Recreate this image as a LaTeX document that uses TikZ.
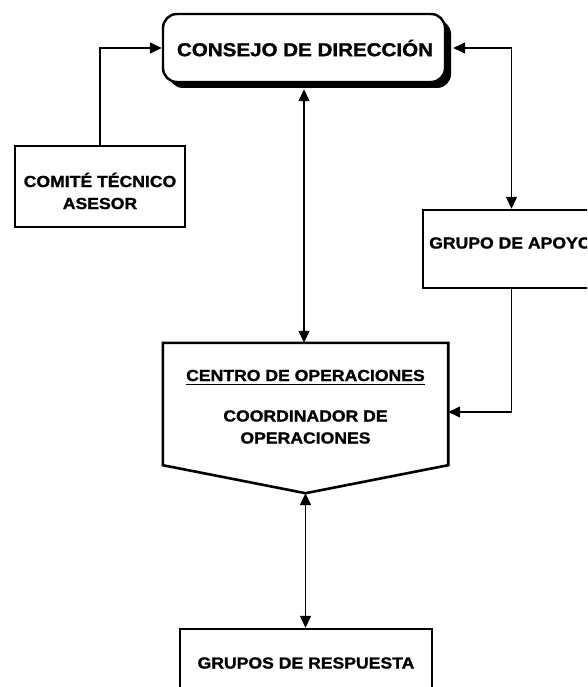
\documentclass[tikz,border=0pt]{standalone}
\usepackage{fontspec}
\usepackage{graphicx}
\newfontfamily\hvb{Liberation Sans Bold}[FakeBold=1.2]
\newcommand\wtxt[1]{\scalebox{1.1}[1]{#1}}
\usetikzlibrary{arrows.meta,shadows,calc}
\begin{document}
\begin{tikzpicture}[x=1pt,y=-1pt,
  boxst/.style={draw, line width=2.4pt, inner sep=0pt, fill=white},
  conn/.style={line width=1.4pt},
  arrowone/.style={-{Triangle[length=12pt,width=11pt]}},
  arrowtwo/.style={{Triangle[length=12pt,width=11pt]}-{Triangle[length=12pt,width=11pt]}},
  txt/.style={font=\hvb\fontsize{16}{22}\selectfont, align=center, inner sep=0pt}]
\clip (0,0) rectangle (587,687);
\fill[white] (0,0) rectangle (587,687);

% Consejo de direccion
\node[boxst, rounded corners=14pt, minimum width=282pt, minimum height=68pt,
  drop shadow={shadow xshift=6pt, shadow yshift=-6pt, opacity=1, fill=black}] (cons) at (304,48) {};
\node[txt, font=\hvb\fontsize{18.7}{22}\selectfont] (constext) at (305,48) {\wtxt{CONSEJO DE DIRECCIÓN}};

% Comite tecnico asesor
\node[boxst, minimum width=170pt, minimum height=81pt] (comite) at (100,186.5) {};
\node[txt] (comitetext) at (100,191) {\wtxt{COMITÉ TÉCNICO}\\\wtxt{ASESOR}};

% Grupo de apoyo
\node[boxst, minimum width=177pt, minimum height=78pt] (apoyo) at (511.5,249) {};
\node[txt, anchor=west] (apoyotext) at (429,243) {\wtxt{GRUPO DE APOYO}};

% Centro de operaciones
\node[minimum width=285pt, minimum height=122pt, inner sep=0pt] (centro) at (305.5,404) {};
\draw[line width=2.6pt, line join=miter, fill=white] (centro.north west) -- (centro.north east) -- (centro.south east)
  -- ($(centro.south)+(0,28)$) coordinate (centrotip) -- (centro.south west) -- cycle;
\node[txt] (centrotitle) at (305.5,375.5) {\wtxt{CENTRO DE OPERACIONES}};
\draw[line width=1.8pt] ([yshift=-3.5pt]centrotitle.base west) -- ([yshift=-3.5pt]centrotitle.base east);
\node[txt] (coordtext) at (305.5,427) {\wtxt{COORDINADOR DE}\\\wtxt{OPERACIONES}};

% Grupos de respuesta
\node[boxst, minimum width=252pt, minimum height=80pt] (grupos) at (306,669) {};
\node[txt] (grupostext) at (306,663) {\wtxt{GRUPOS DE RESPUESTA}};

% Connectors
\draw[conn, arrowone] (comite.north) |- (cons.west);
\draw[conn, arrowtwo, shorten <=6pt] (cons.south) -- (cons.south |- centro.north);
\draw[conn, arrowtwo, shorten <=7pt] (cons.east) -| (apoyo.north);
\draw[conn, arrowone] (apoyo.south) |- ([yshift=-8pt]centro.east);
\draw[conn, arrowtwo] (centrotip) -- (centrotip |- grupos.north);
\end{tikzpicture}
\end{document}
